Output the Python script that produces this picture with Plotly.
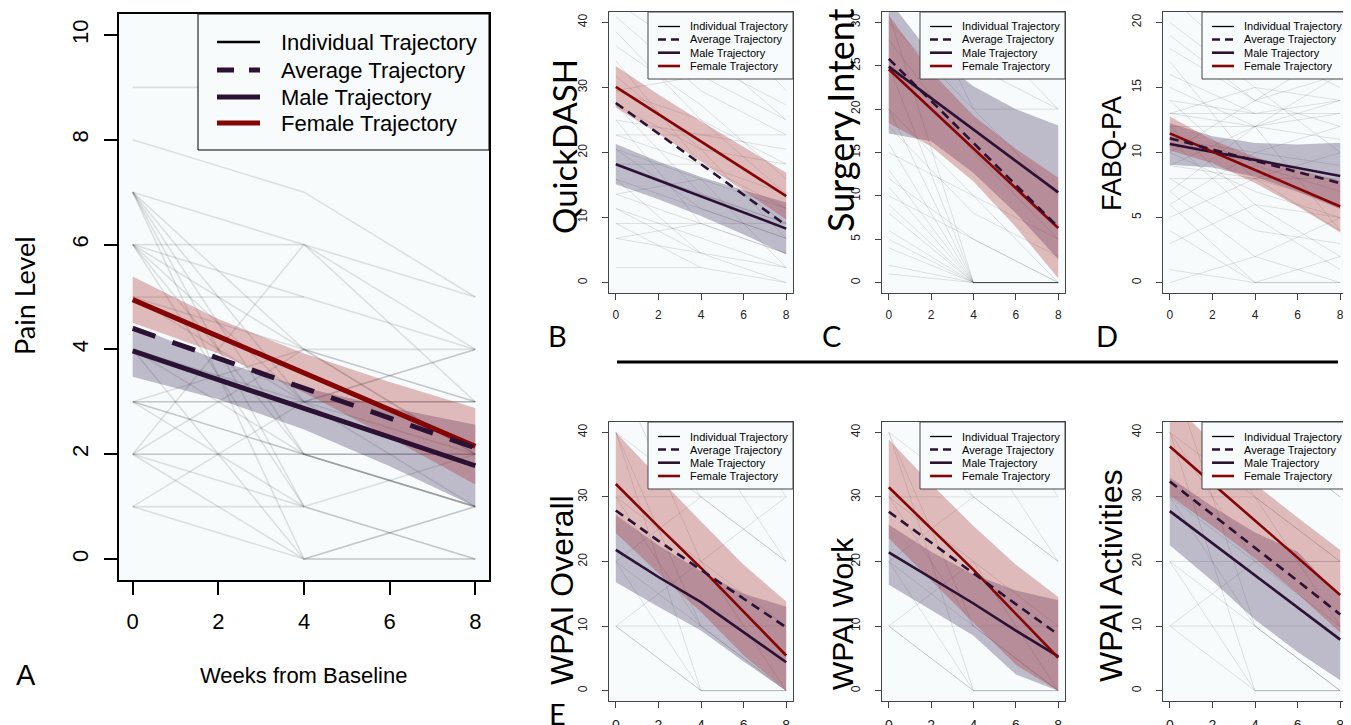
import plotly.graph_objects as go

# The page places the figure 8 px in from the top-left corner of the window,
# so the figure itself is 8 px smaller than the 1351x725 window.
PAGE_OFFSET = 8
W, H = 1351 - PAGE_OFFSET, 725 - PAGE_OFFSET

WEEKS = [0, 4, 8]
FIT_WEEKS = [0, 2, 4, 6, 8]
X_TICKS = [0, 2, 4, 6, 8]
LEGEND_NAMES = ["Individual Trajectory", "Average Trajectory", "Male Trajectory", "Female Trajectory"]

# ---------------- Panel A : Pain Level ----------------
PAIN_TICKS = [0, 2, 4, 6, 8, 10]
PAIN_IND = [
    [9, 9, None], [8, 7, 5], [7, 6, 5], [7, 3, 4], [7, 2, 1], [7, 1, 2], [7, 0, 1],
    [6, 5, 4], [6, 6, 3], [6, 2, 1], [6, 4, 2], [6, 1, 0], [5, 5, None], [5, 3, 3],
    [5, 4, 4], [4, 2, 2], [4, 3, 1], [4, 0, 0], [3, 3, 3], [3, 3, 2], [3, 2, 1],
    [3, 1, None], [3, 4, 2], [2, 2, 2], [2, 2, 1], [2, 1, None], [2, 4, 3], [2, 0, 1],
    [1, 1, 0], [1, 3, 4], [2, 6, 4], [1, 0, 0], [3, 2, 2], [6, 3, 3], [7, 4, 3],
]
PAIN_AVG = [4.40, 3.83, 3.26, 2.69, 2.12]
PAIN_MALE = [3.97, 3.42, 2.87, 2.33, 1.78]
PAIN_FEMALE = [4.95, 4.25, 3.55, 2.85, 2.15]
PAIN_MALE_LO = [3.48, 3.05, 2.47, 1.77, 1.00]
PAIN_MALE_HI = [4.46, 3.79, 3.27, 2.89, 2.56]
PAIN_FEMALE_LO = [4.51, 3.92, 3.18, 2.32, 1.42]
PAIN_FEMALE_HI = [5.39, 4.58, 3.92, 3.38, 2.88]

# ---------------- Panel B : QuickDASH ----------------
QD_TICKS = [0, 10, 20, 30, 40]
QD_IND = [
    [43.2, 34.1, 27.3], [40.9, 29.5, 22.7], [38.6, 25.0, 13.6], [47.7, 36.4, 25.0],
    [45.5, 40.9, 31.8], [31.8, 20.5, 6.8], [29.5, 25.0, 18.2], [27.3, 13.6, 9.1],
    [25.0, 22.7, 20.5], [25.0, 9.1, 4.5], [22.7, 18.2, 11.4], [22.7, 22.7, 22.7],
    [20.5, 11.4, 6.8], [20.5, 15.9, 2.3], [18.2, 13.6, 9.1], [15.9, 4.5, 0.0],
    [15.9, 11.4, 6.8], [13.6, 9.1, 4.5], [13.6, 15.9, 11.4], [11.4, 6.8, 2.3],
    [11.4, 4.5, None], [9.1, 9.1, 9.1], [9.1, 2.3, 0.0], [6.8, 4.5, 2.3],
    [6.8, 9.1, None], [2.3, 2.3, None], [36.4, 27.3, 15.9], [34.1, 18.2, 9.1],
    [50.0, 43.2, 29.5], [18.2, 18.2, 13.6], [29.5, 31.8, 25.0], [27.3, 20.5, 18.2],
]
QD_AVG = [27.6, 22.9, 18.2, 13.5, 8.8]
QD_MALE = [18.2, 15.7, 13.25, 10.8, 8.3]
QD_FEMALE = [30.1, 25.9, 21.7, 17.5, 13.3]
QD_MALE_LO = [15.1, 12.8, 10.25, 7.4, 4.3]
QD_MALE_HI = [21.3, 18.6, 16.25, 14.2, 12.3]
QD_FEMALE_LO = [26.9, 22.9, 18.6, 14.2, 9.7]
QD_FEMALE_HI = [33.3, 28.9, 24.8, 20.8, 16.9]

# ---------------- Panel C : Surgery Intent ----------------
SI_TICKS = [0, 5, 10, 15, 20, 25, 30]
SI_IND = [
    [1, 0, 0], [2, 0, None], [4, 0, 0], [6, 0, 0], [8, 0, 0], [9, 0, 0], [11, 0, 0],
    [13, 0, 0], [16, 0, 0], [20, 0, 0], [31, 0, 0], [25, 0, 0], [40, 20, 20],
    [35, 25, 20], [50, 30, 20], [30, 20, 10], [20, 10, 5], [15, 10, 0], [12, 5, 0],
    [28, 15, 5], [40, 30, 25], [45, 35, 30], [10, 5, 0], [5, 0, None], [18, 8, 3],
]
SI_AVG = [25.8, 20.95, 16.1, 11.25, 6.4]
SI_MALE = [24.9, 21.3, 17.65, 14.0, 10.4]
SI_FEMALE = [24.6, 20.0, 15.45, 10.9, 6.3]
SI_MALE_LO = [17.2, 16.3, 12.65, 8.0, 2.7]
SI_MALE_HI = [32.6, 26.3, 22.65, 20.0, 18.1]
SI_FEMALE_LO = [18.4, 15.7, 11.65, 6.4, 0.5]
SI_FEMALE_HI = [30.8, 24.3, 19.25, 15.4, 12.1]

# ---------------- Panel D : FABQ-PA ----------------
FQ_TICKS = [0, 5, 10, 15, 20]
FQ_IND = [
    [18, 14, 12], [16, 13, 14], [15, 12, 13], [14, 13, None], [13, 12, 11], [13, 13, 13],
    [12, 12, 14], [11, 10, 9], [10, 7, 5], [9, 8, 8], [8, 8, 6], [8, 4, 3], [7, 2, 0],
    [6, 0, 0], [6, 10, 12], [5, 8, 10], [4, 0, 2], [3, 6, 5], [1, 0, 0], [0, 2, 5],
    [20, 15, 14], [22, 16, 20], [24, 18, 15], [14, 8, 4], [12, 6, 2], [10, 14, 18],
    [9, 12, 16], [17, 9, 7], [11, 5, 1], [13, 15, 10], [19, 14, 16], [7, 12, 4],
]
FQ_AVG = [11.1, 10.24, 9.37, 8.51, 7.64]
FQ_MALE = [10.65, 10.04, 9.43, 8.81, 8.2]
FQ_FEMALE = [11.47, 10.07, 8.66, 7.26, 5.85]
FQ_MALE_LO = [9.05, 8.84, 8.13, 7.01, 5.65]
FQ_MALE_HI = [12.25, 11.24, 10.73, 10.61, 10.75]
FQ_FEMALE_LO = [10.17, 9.17, 7.66, 5.86, 3.85]
FQ_FEMALE_HI = [12.77, 10.97, 9.66, 8.66, 7.85]

# ---------------- Panel E : WPAI Overall ----------------
WPAI_TICKS = [0, 10, 20, 30, 40]
WO_IND = [
    [10, 10, 10], [10, 0, 0], [10, 0, None], [20, 10, 0], [20, 0, 0], [30, 20, 10],
    [40, 0, 0], [40, 30, 20], [40, 10, None], [50, 30, 30], [60, 40, 20], [30, 10, 0],
    [20, 30, 20], [70, 50, 30], [30, 30, None], [10, 20, 0], [50, 20, 30],
]
WO_AVG = [27.9, 23.2, 18.7, 14.2, 9.8]
WO_MALE = [21.8, 17.6, 13.7, 9.0, 4.4]
WO_FEMALE = [32.0, 25.4, 19.0, 12.2, 5.45]
WO_MALE_LO = [16.8, 13.0, 9.3, 4.5, 0.0]
WO_MALE_HI = [27.2, 22.5, 18.5, 15.0, 13.0]
WO_FEMALE_LO = [24.4, 18.2, 12.2, 5.5, 0.0]
WO_FEMALE_HI = [40.0, 33.0, 26.2, 19.5, 13.8]

# ---------------- Panel F : WPAI Work ----------------
WW_IND = [
    [10, 10, 10], [10, 0, 0], [10, 0, None], [20, 10, 0], [20, 0, 0], [30, 20, 10],
    [40, 0, 0], [40, 30, 20], [40, 10, None], [50, 30, 30], [60, 40, 20], [30, 10, 0],
    [20, 30, 20], [70, 50, 30], [30, 30, None], [10, 20, 0],
]
WW_AVG = [27.7, 22.9, 18.2, 13.4, 8.7]
WW_MALE = [21.4, 17.4, 13.5, 9.3, 5.3]
WW_FEMALE = [31.5, 25.1, 18.7, 11.9, 5.1]
WW_MALE_LO = [16.4, 12.5, 8.5, 2.5, 0.0]
WW_MALE_HI = [25.7, 21.5, 18.0, 15.5, 14.0]
WW_FEMALE_LO = [23.6, 17.0, 10.5, 4.0, 0.0]
WW_FEMALE_HI = [38.9, 32.0, 25.5, 19.5, 14.5]

# ---------------- Panel G : WPAI Activities ----------------
WA_IND = [
    [20, 10, 0], [20, 0, 0], [10, 10, 10], [10, 0, 0], [30, 30, 20], [30, 20, 10],
    [40, 20, 20], [40, 0, 0], [50, 30, 20], [60, 40, 30], [30, 10, 0], [20, 20, 20],
    [40, 30, 10], [70, 40, 30], [50, 10, 0], [10, 20, None],
]
WA_AVG = [32.4, 27.3, 22.1, 17.0, 11.8]
WA_MALE = [27.8, 22.8, 17.9, 12.9, 7.9]
WA_FEMALE = [37.8, 32.1, 26.3, 20.6, 14.8]
WA_MALE_LO = [22.5, 17.0, 11.0, 6.0, 1.6]
WA_MALE_HI = [33.0, 28.5, 24.5, 21.5, 14.5]
WA_FEMALE_LO = [30.2, 25.5, 20.5, 15.0, 9.0]
WA_FEMALE_HI = [45.0, 38.5, 32.0, 26.8, 21.8]

# ---------------- styling ----------------
PLOT_BG = "#f7fbfc"
MALE_COLOR = "#2b1133"
FEMALE_COLOR = "#850505"
MALE_FILL = "rgba(55,35,85,0.30)"
FEMALE_FILL = "rgba(165,35,35,0.30)"
IND_COLOR = "rgba(0,0,0,0.11)"
ARIAL = "Liberation Sans, Arial, sans-serif"
HUMAN = "Lato, Open Sans, sans-serif"


def px_x(v):
    """window pixel column -> paper fraction"""
    return (v - PAGE_OFFSET) / W


def px_y(v):
    """window pixel row -> paper fraction"""
    return 1 - (v - PAGE_OFFSET) / H


PANELS = [
    ("A", PAIN_IND, PAIN_AVG, PAIN_MALE, PAIN_FEMALE, PAIN_MALE_LO, PAIN_MALE_HI,
     PAIN_FEMALE_LO, PAIN_FEMALE_HI, [-0.4, 10.4], PAIN_TICKS, (119, 489, 14, 580), True),
    ("B", QD_IND, QD_AVG, QD_MALE, QD_FEMALE, QD_MALE_LO, QD_MALE_HI,
     QD_FEMALE_LO, QD_FEMALE_HI, [-1.6, 41.6], QD_TICKS, (609, 793, 12, 293), False),
    ("C", SI_IND, SI_AVG, SI_MALE, SI_FEMALE, SI_MALE_LO, SI_MALE_HI,
     SI_FEMALE_LO, SI_FEMALE_HI, [-1.2, 31.2], SI_TICKS, (882, 1065, 12, 293), False),
    ("D", FQ_IND, FQ_AVG, FQ_MALE, FQ_FEMALE, FQ_MALE_LO, FQ_MALE_HI,
     FQ_FEMALE_LO, FQ_FEMALE_HI, [-0.8, 20.8], FQ_TICKS, (1163, 1347, 12, 293), False),
    ("E", WO_IND, WO_AVG, WO_MALE, WO_FEMALE, WO_MALE_LO, WO_MALE_HI,
     WO_FEMALE_LO, WO_FEMALE_HI, [-1.6, 41.6], WPAI_TICKS, (609, 793, 422, 701), False),
    ("F", WW_IND, WW_AVG, WW_MALE, WW_FEMALE, WW_MALE_LO, WW_MALE_HI,
     WW_FEMALE_LO, WW_FEMALE_HI, [-1.6, 41.6], WPAI_TICKS, (882, 1065, 422, 701), False),
    ("G", WA_IND, WA_AVG, WA_MALE, WA_FEMALE, WA_MALE_LO, WA_MALE_HI,
     WA_FEMALE_LO, WA_FEMALE_HI, [-1.6, 41.6], WPAI_TICKS, (1163, 1347, 422, 701), False),
]

# legend geometry (pixels relative to the panel's top-right corner)
LEG_BIG = dict(w=291, h=136, lx0=19, lx1=62, tx=81, rows=[28, 56, 83, 109], size=22,
               widths=[2.6, 5, 5, 5], dash="17px,15px")
LEG_SMALL = dict(w=145, h=67, lx0=10, lx1=32, tx=40, rows=[14.5, 27.5, 40.7, 54], size=11,
                 widths=[1.3, 2.6, 2.6, 2.6], dash="8px,5px")

fig = go.Figure()
layout = dict(
    width=W, height=H, margin=dict(l=0, r=0, t=0, b=0, autoexpand=False),
    paper_bgcolor="white", plot_bgcolor=PLOT_BG, showlegend=False,
)
shapes = []
annotations = []

for i, (key, ind, avg, male, female, mlo, mhi, flo, fhi, yr, yticks, box, big) in enumerate(PANELS):
    n = i + 1
    xa = "x" if n == 1 else f"x{n}"
    ya = "y" if n == 1 else f"y{n}"
    lw_ind = 1.6 if big else 1.0
    lw_main = 5 if big else 2.6
    dash = "24px,18px" if big else "9px,6px"

    for traj in ind:
        fig.add_trace(go.Scatter(x=WEEKS, y=traj, mode="lines", xaxis=xa, yaxis=ya,
                                 line=dict(color=IND_COLOR, width=lw_ind), hoverinfo="skip"))
    fig.add_trace(go.Scatter(x=FIT_WEEKS + FIT_WEEKS[::-1], y=mhi + mlo[::-1],
                             fill="toself", fillcolor=MALE_FILL, mode="lines",
                             line=dict(width=0, color=MALE_FILL), xaxis=xa, yaxis=ya,
                             hoverinfo="skip"))
    fig.add_trace(go.Scatter(x=FIT_WEEKS + FIT_WEEKS[::-1], y=fhi + flo[::-1],
                             fill="toself", fillcolor=FEMALE_FILL, mode="lines",
                             line=dict(width=0, color=FEMALE_FILL), xaxis=xa, yaxis=ya,
                             hoverinfo="skip"))
    fig.add_trace(go.Scatter(x=FIT_WEEKS, y=male, mode="lines", xaxis=xa, yaxis=ya,
                             name=LEGEND_NAMES[2], line=dict(color=MALE_COLOR, width=lw_main)))
    fig.add_trace(go.Scatter(x=FIT_WEEKS, y=female, mode="lines", xaxis=xa, yaxis=ya,
                             name=LEGEND_NAMES[3], line=dict(color=FEMALE_COLOR, width=lw_main)))
    fig.add_trace(go.Scatter(x=FIT_WEEKS, y=avg, mode="lines", xaxis=xa, yaxis=ya,
                             name=LEGEND_NAMES[1],
                             line=dict(color=MALE_COLOR, width=lw_main, dash=dash)))

    l, r, t, b = box
    tick_font = dict(family=ARIAL, size=22 if big else 12, color="black" if big else "#222")
    axis_common = dict(showgrid=False, zeroline=False, showline=True, mirror=True,
                       linecolor="black" if big else "#444", linewidth=1.5 if big else 1,
                       ticks="outside", ticklen=13 if big else 6,
                       tickwidth=1.5 if big else 1, tickcolor="black" if big else "#444",
                       tickfont=tick_font, automargin=False)
    xkey = "xaxis" if n == 1 else f"xaxis{n}"
    ykey = "yaxis" if n == 1 else f"yaxis{n}"
    xfont = dict(tick_font)
    if key in ("E", "F", "G"):
        xfont["size"] = 14
    layout[xkey] = dict(axis_common, domain=[px_x(l), px_x(r)], range=[-0.32, 8.32],
                        tickvals=X_TICKS, anchor=ya, tickfont=xfont,
                        ticklabelstandoff=8 if big else 5)
    layout[ykey] = dict(axis_common, domain=[px_y(b), px_y(t)], range=yr,
                        tickvals=yticks, anchor=xa, tickangle=-90,
                        ticklabelstandoff=7 if big else 10)

    # legend box drawn in the panel's top-right corner
    g = LEG_BIG if big else LEG_SMALL
    x_left = r - g["w"]
    shapes.append(dict(type="rect", xref="paper", yref="paper",
                       x0=px_x(x_left), x1=px_x(r), y0=px_y(t + g["h"]), y1=px_y(t),
                       fillcolor=PLOT_BG, line=dict(color="black" if big else "#444", width=1)))
    colors = ["black", MALE_COLOR, MALE_COLOR, FEMALE_COLOR]
    dashes = ["solid", g["dash"], "solid", "solid"]
    for k in range(4):
        yy = t + g["rows"][k]
        shapes.append(dict(type="line", xref="paper", yref="paper",
                           x0=px_x(x_left + g["lx0"]), x1=px_x(x_left + g["lx1"]),
                           y0=px_y(yy), y1=px_y(yy),
                           line=dict(color=colors[k], width=g["widths"][k], dash=dashes[k])))
        annotations.append(dict(text=LEGEND_NAMES[k], xref="paper", yref="paper",
                                x=px_x(x_left + g["tx"]), y=px_y(yy), xanchor="left",
                                yanchor="middle", showarrow=False,
                                font=dict(family=ARIAL, size=g["size"], color="black")))

TITLES = [
    ("Pain Level", 25, 296, 27, HUMAN),
    ("QuickDASH", 564, 147, 33, HUMAN),
    ("Surgery Intent", 840, 120, 36, HUMAN),
    ("FABQ-PA", 1112, 154, 27, ARIAL),
    ("WPAI Overall", 562, 590, 32, ARIAL),
    ("WPAI Work", 842, 614, 30, ARIAL),
    ("WPAI Activities", 1111, 576, 32, ARIAL),
]
for text, x, y, size, fam in TITLES:
    annotations.append(dict(text=text, x=px_x(x), y=px_y(y), xref="paper", yref="paper",
                            textangle=-90, showarrow=False, xanchor="center", yanchor="middle",
                            font=dict(family=fam, size=size, color="black")))

annotations.append(dict(text="Weeks from Baseline", x=px_x(303), y=px_y(675), xref="paper",
                        yref="paper", showarrow=False, xanchor="center", yanchor="middle",
                        font=dict(family=ARIAL, size=22, color="black")))

LETTERS = [("A", 26, 675, ARIAL), ("B", 557, 335, HUMAN), ("C", 831, 335, HUMAN),
           ("D", 1107, 335, HUMAN), ("E", 557, 713, HUMAN)]
for text, x, y, fam in LETTERS:
    annotations.append(dict(text=text, x=px_x(x), y=px_y(y), xref="paper", yref="paper",
                            showarrow=False, xanchor="center", yanchor="middle",
                            font=dict(family=fam, size=29, color="black")))

shapes.append(dict(type="line", xref="paper", yref="paper", x0=px_x(617), x1=px_x(1338),
                   y0=px_y(362), y1=px_y(362), line=dict(color="black", width=3)))

layout["shapes"] = shapes
layout["annotations"] = annotations
fig.update_layout(**layout)

fig.write_html("out.html")
